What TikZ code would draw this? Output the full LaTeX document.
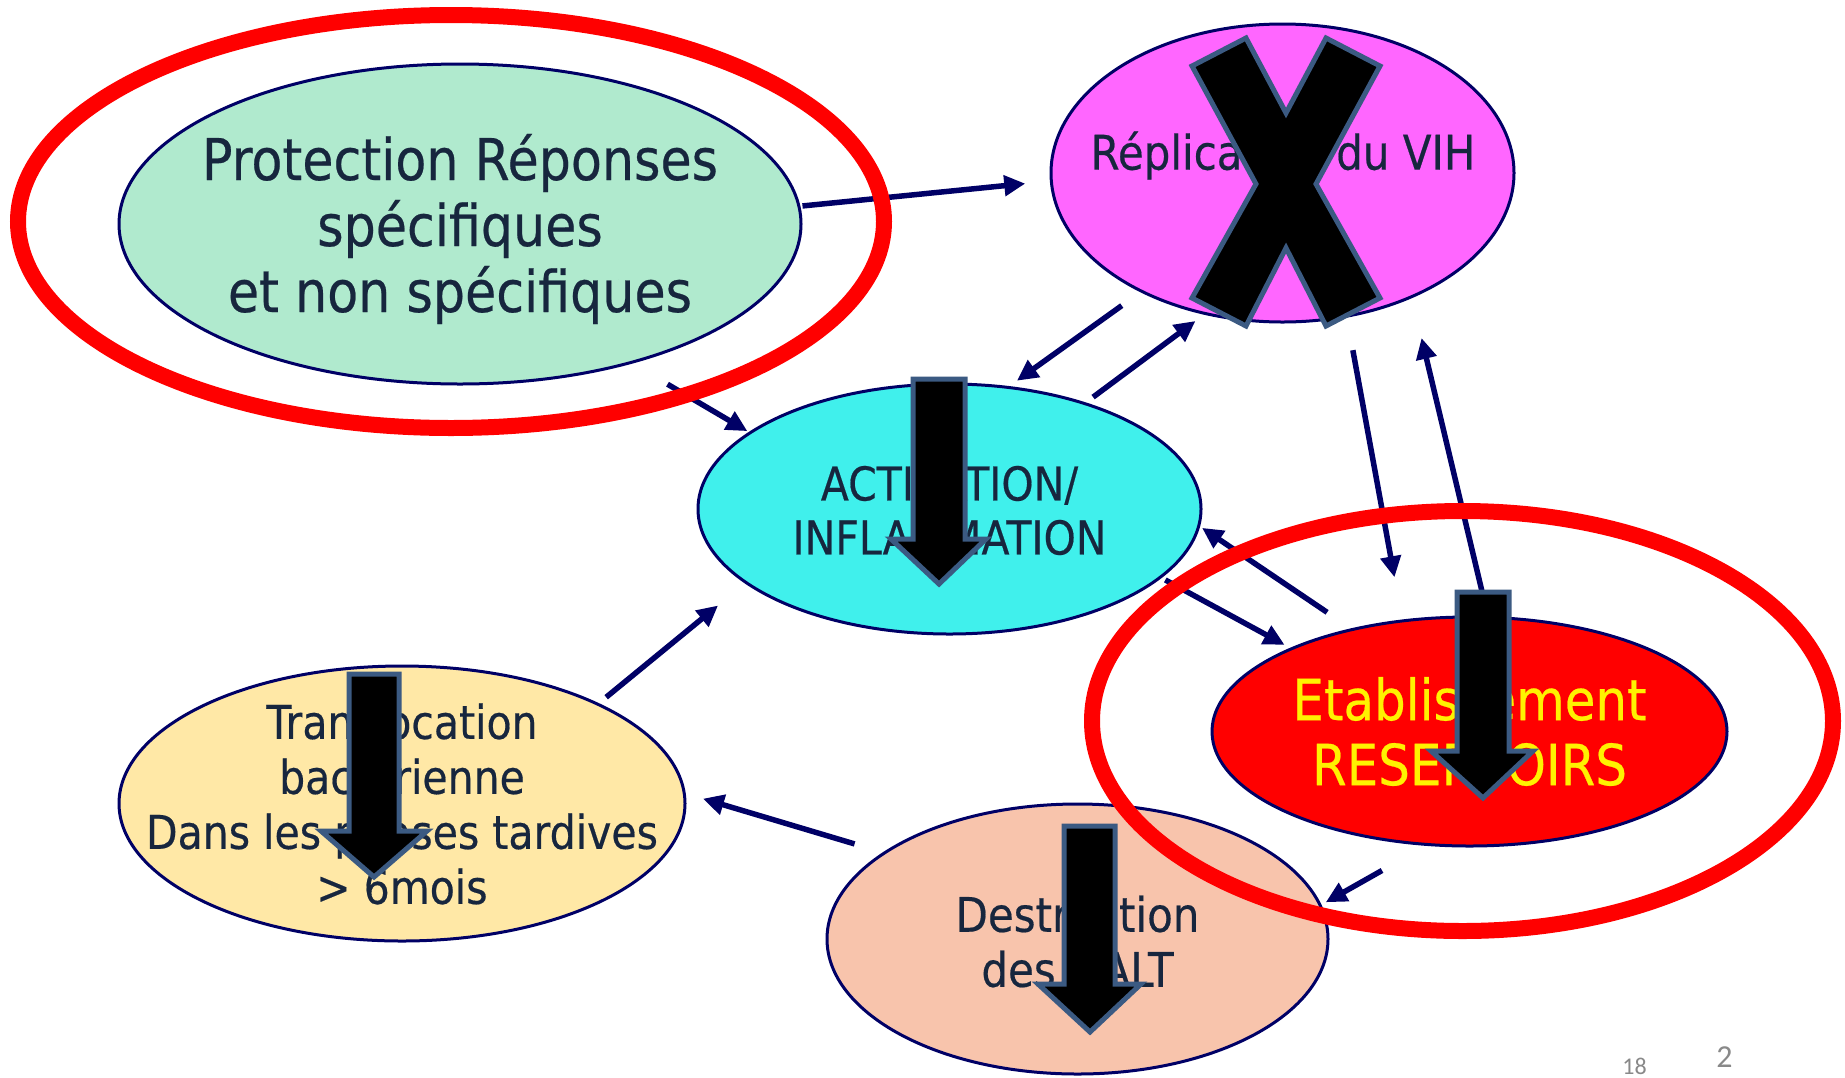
\documentclass[tikz,border=0pt]{standalone}
\usepackage{fontspec}
\setmainfont[FakeStretch=0.88,FakeBold=0.4]{DejaVu Sans}
\newfontfamily\pgfont{Carlito}
\usetikzlibrary{shapes.geometric,arrows.meta}
\definecolor{navy}{RGB}{0,0,102}
\definecolor{txt}{RGB}{23,38,62}
\definecolor{mint}{RGB}{176,234,206}
\definecolor{mag}{RGB}{255,102,255}
\definecolor{cyanf}{RGB}{64,240,236}
\definecolor{butter}{RGB}{255,232,166}
\definecolor{peach}{RGB}{248,196,172}
\definecolor{ringred}{RGB}{255,0,0}
\definecolor{steel}{RGB}{59,90,130}
\definecolor{pgnum}{RGB}{137,137,137}
\begin{document}
\begin{tikzpicture}[x=1pt,y=-1pt,
  blob/.style={ellipse, draw=navy, line width=3pt, inner sep=0pt},
  label text/.style={inner sep=0pt, align=center, text=txt},
  ring/.style={ellipse, draw=ringred, line width=16pt, inner sep=0pt},
  conn/.style={draw=navy, line width=5.5pt, -{Triangle[length=21pt,width=20pt]}},
  blockarrow/.style={fill=black, draw=steel, line width=5pt, line join=miter},
  pagenum/.style={text=pgnum, inner sep=0pt}
]
\useasboundingbox (0,0) rectangle (1845,1077);
\fill[white] (0,0) rectangle (1845,1077);

% ellipses
\node[blob, fill=mint,   minimum width=682pt, minimum height=320pt] (G) at (460,224) {};
\node[blob, fill=mag,    minimum width=463pt, minimum height=298pt] (M) at (1282.5,173) {};
\node[blob, fill=cyanf,  minimum width=503pt, minimum height=250pt] (C) at (949.5,509) {};
\node[blob, fill=butter, minimum width=566pt, minimum height=275pt] (Y) at (402,803.5) {};
\node[blob, fill=peach,  minimum width=501pt, minimum height=270pt] (P) at (1077.5,939) {};
\node[blob, fill=ringred,minimum width=515pt, minimum height=229pt] (R) at (1469.5,731.5) {};

% texts
\node[label text, font=\fontsize{57.6}{66}\selectfont] (Gt) at (460,229)
  {Protection Réponses\\spécifiques\\et non spécifiques};
\node[label text, font=\fontsize{47.7}{55}\selectfont] (Mt) at (1283,155.5) {Réplication du VIH};
\node[label text, font=\fontsize{46.6}{54}\selectfont] (Ct) at (949.5,510.5) {ACTIVATION/\\INFLAMMATION};
\node[label text, font=\fontsize{46.6}{55}\selectfont] (Yt) at (402,804)
  {Translocation\\bactérienne\\Dans les phases tardives\\> 6mois};
\node[label text, font=\fontsize{47.7}{55}\selectfont] (Pt) at (1077.5,941.5) {Destruction\\des GALT};
\node[label text, text=yellow, font=\fontsize{56.7}{65}\selectfont] (Rt) at (1469.5,731.5) {Etablissement\\RESERVOIRS};

% connectors
\draw[conn, shorten <=2.1pt,  shorten >=24.7pt] (G.3.01)   -- (M.182.68);
\draw[conn, shorten <=40.8pt, shorten >=1.7pt]  (G.-39.96) -- (C.159.51);
\draw[conn, shorten <=22.9pt, shorten >=9.3pt]  (M.220.36) -- (C.64.54);
\draw[conn, shorten <=9pt,    shorten >=10.6pt] (C.38.22)  -- (M.241.67);
\draw[conn, shorten <=33.1pt, shorten >=42.9pt] (M.-66.43) -- (R.121.95);
\draw[conn, shorten <=25.9pt, shorten >=41pt]   (R.81.83)  -- (M.-44.09);
\draw[conn, shorten <=28.7pt, shorten >=2.4pt]  (R.139.41) -- (C.-4.42);
\draw[conn, shorten <=4.2pt,  shorten >=6.3pt]  (C.-18.18) -- (R.155.79);
\draw[conn, shorten <=50.1pt, shorten >=5pt]    (R.249.46) -- (P.8.63);
\draw[conn, shorten <=29.5pt, shorten >=17.9pt] (P.156.32) -- (Y.2.40);
\draw[conn, shorten <=9.4pt,  shorten >=34.8pt] (Y.27.64)  -- (C.200.81);

% red rings
\node[ring, minimum width=866pt, minimum height=413pt] (ringL) at (451,221.5) {};
\node[ring, minimum width=741pt, minimum height=420pt] (ringR) at (1462.5,721) {};

% block arrows
\draw[blockarrow] (913,379) -- (965,379) -- (965,539) -- (986,539) -- (939,584) -- (891,539) -- (913,539) -- cycle;
\draw[blockarrow] (349,674) -- (399,674) -- (399,831) -- (427,831) -- (374,877) -- (321,831) -- (349,831) -- cycle;
\draw[blockarrow] (1064,826) -- (1115,826) -- (1115,984) -- (1141,984) -- (1090,1032) -- (1038,984) -- (1064,984) -- cycle;
\draw[blockarrow] (1457,592) -- (1509,592) -- (1509,751) -- (1533,751) -- (1483,798) -- (1431,751) -- (1457,751) -- cycle;

% the cross
\draw[blockarrow] (1192,66) -- (1246,38) -- (1286,113) -- (1326,38) -- (1380,66) -- (1316,184)
  -- (1380,298) -- (1326,326) -- (1286,248) -- (1246,326) -- (1192,298) -- (1256,184) -- cycle;

% page numbers
\node[pagenum, font=\pgfont\fontsize{24}{24}\selectfont] (pn1) at (1634.5,1066) {18};
\node[pagenum, font=\pgfont\fontsize{32}{32}\selectfont] (pn2) at (1724.5,1057) {2};
\end{tikzpicture}
\end{document}
